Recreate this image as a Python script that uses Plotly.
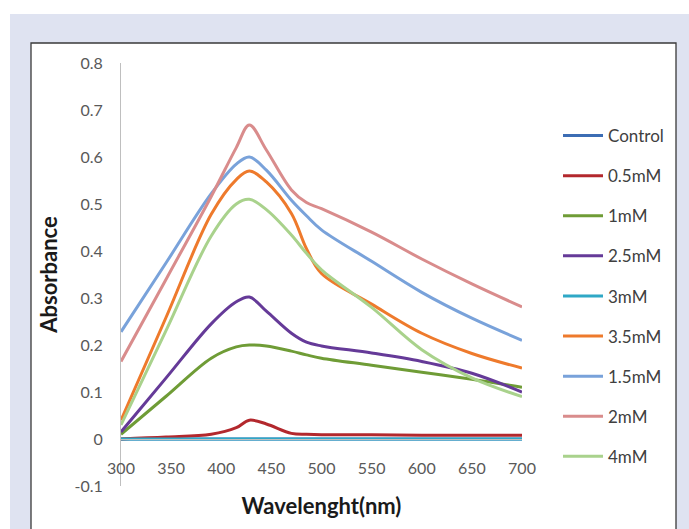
import plotly.graph_objects as go

wavelength = [300, 345, 390, 415, 428, 445, 470, 485, 500, 550, 600, 650, 700]
control = [0, 0, 0, 0, 0, 0, 0, 0, 0, 0, 0, 0, 0]
mM_05 = [0.0, 0.004, 0.010, 0.024, 0.040, 0.032, 0.012, 0.010, 0.009, 0.009, 0.008, 0.008, 0.008]
mM_1 = [0.010, 0.091, 0.172, 0.196, 0.200, 0.198, 0.187, 0.179, 0.172, 0.157, 0.142, 0.127, 0.110]
mM_25 = [0.015, 0.130, 0.245, 0.292, 0.302, 0.272, 0.225, 0.206, 0.198, 0.183, 0.165, 0.140, 0.100]
mM_3 = [0, 0, 0, 0, 0, 0, 0, 0, 0, 0, 0, 0, 0]
mM_35 = [0.040, 0.259, 0.478, 0.552, 0.570, 0.547, 0.480, 0.405, 0.352, 0.287, 0.225, 0.182, 0.151]
mM_15 = [0.228, 0.375, 0.522, 0.585, 0.600, 0.572, 0.508, 0.475, 0.445, 0.378, 0.312, 0.257, 0.210]
mM_2 = [0.165, 0.340, 0.516, 0.620, 0.668, 0.615, 0.530, 0.503, 0.490, 0.440, 0.383, 0.330, 0.281]
mM_4 = [0.030, 0.231, 0.432, 0.500, 0.510, 0.488, 0.434, 0.395, 0.360, 0.280, 0.190, 0.130, 0.090]

series_names = ["Control", "0.5mM", "1mM", "2.5mM", "3mM", "3.5mM", "1.5mM", "2mM", "4mM"]
series_values = [control, mM_05, mM_1, mM_25, mM_3, mM_35, mM_15, mM_2, mM_4]
series_colors = ["#3c6db4", "#b3282d", "#6f9c36", "#653a98", "#2fa8c6",
                 "#ee7a2c", "#79a2da", "#d98c8c", "#a9d28c"]

x_ticks = [300, 350, 400, 450, 500, 550, 600, 650, 700]
y_ticks = [-0.1, 0, 0.1, 0.2, 0.3, 0.4, 0.5, 0.6, 0.7, 0.8]
y_tick_text = ["-0.1", "0", "0.1", "0.2", "0.3", "0.4", "0.5", "0.6", "0.7", "0.8"]

W, H = 689, 529
L, R, T, B = 121, 522, 63, 486  # plot area in pixels

def px(x):
    return (x - L) / (R - L)

def py(y):
    return (B - y) / (B - T)

fig = go.Figure()
for name, vals, col in zip(series_names, series_values, series_colors):
    fig.add_trace(go.Scatter(
        x=wavelength, y=vals, name=name, mode="lines",
        line=dict(color=col, width=3, shape="spline", smoothing=1.0),
        legendgroup=name,
    ))

font_family = "Lato, 'Open Sans', sans-serif"

fig.update_layout(
    width=W, height=H,
    margin=dict(l=L, r=W - R, t=T, b=H - B, pad=0),
    paper_bgcolor="white",
    plot_bgcolor="rgba(0,0,0,0)",
    font=dict(family=font_family, size=15, color="#595959"),
    showlegend=True,
    legend=dict(
        x=px(558), y=py(118), xanchor="left", yanchor="top",
        font=dict(size=17, color="#404040", family=font_family),
        tracegroupgap=15, itemwidth=40, bgcolor="rgba(0,0,0,0)",
        traceorder="grouped",
    ),
    xaxis=dict(
        range=[300, 700], tickvals=x_ticks, showgrid=False, zeroline=False,
        showline=True, linecolor="#bfbfbf", linewidth=1,
        anchor="free", position=1 / 9, ticks="", ticklabelstandoff=15,
        tickfont=dict(size=16, color="#595959"),
        title=dict(text="<b>Wavelenght(nm)</b>", standoff=22,
                   font=dict(size=22, color="#1a1a1a")),
    ),
    yaxis=dict(
        range=[-0.1, 0.8], tickvals=y_ticks, ticktext=y_tick_text,
        showgrid=False, zeroline=False, showline=True, linecolor="#bfbfbf",
        linewidth=1, ticks="", ticklabelstandoff=14,
        tickfont=dict(size=16, color="#595959"),
        title=dict(text="<b>Absorbance</b>", standoff=10,
                   font=dict(size=22, color="#1a1a1a")),
    ),
    shapes=[
        dict(type="rect", xref="paper", yref="paper", layer="below",
             x0=px(10), x1=px(700), y0=py(14), y1=py(540),
             fillcolor="#dfe3f1", line=dict(width=0)),
        dict(type="rect", xref="paper", yref="paper", layer="below",
             x0=px(31), x1=px(676), y0=py(43), y1=py(545),
             fillcolor="white", line=dict(color="#3a3a3a", width=1.3)),
    ],
)

fig.write_html("out.html")
